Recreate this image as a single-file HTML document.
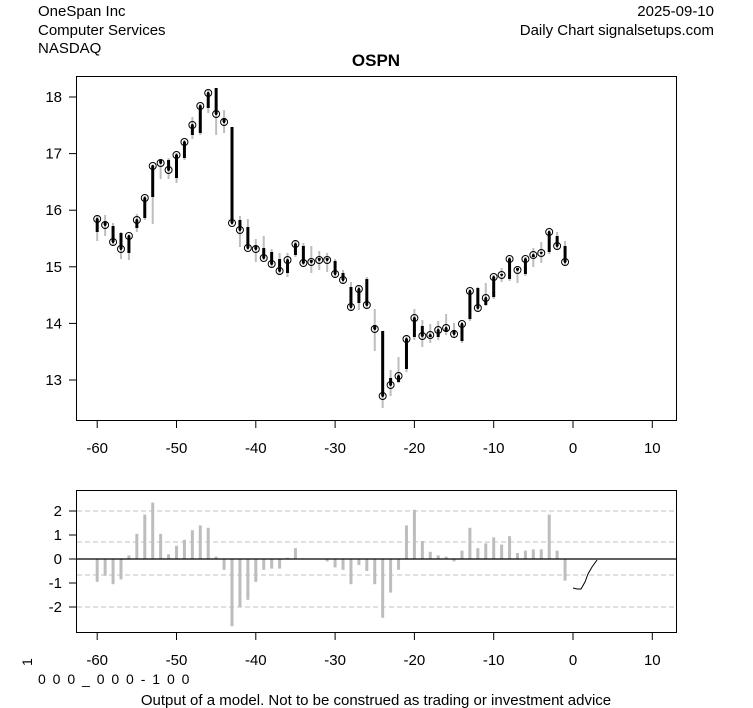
<!DOCTYPE html>
<html><head><meta charset="utf-8"><style>
html,body{margin:0;padding:0;background:#fff;}
svg{display:block;font-family:"Liberation Sans",Arial,sans-serif;}
</style></head><body>
<svg id="s" width="753" height="708" xmlns="http://www.w3.org/2000/svg">
<rect width="753" height="708" fill="#fff"/>
<text x="38" y="16" font-size="15">OneSpan Inc</text>
<text x="38" y="35" font-size="15">Computer Services</text>
<text x="38" y="53" font-size="15">NASDAQ</text>
<text x="714" y="16" font-size="15" text-anchor="end">2025-09-10</text>
<text x="714" y="35" font-size="15" text-anchor="end">Daily Chart signalsetups.com</text>
<text x="376" y="66" font-size="17" font-weight="bold" text-anchor="middle">OSPN</text>
<rect x="76.5" y="76.5" width="600" height="344" fill="none" stroke="#000"/>
<rect x="76.5" y="490.5" width="600" height="142" fill="none" stroke="#000"/>
<g id="g"></g>
<text x="376" y="705" font-size="15" text-anchor="middle">Output of a model. Not to be construed as trading or investment advice</text>
<text x="38" y="684" font-size="14" letter-spacing="1.5">0 0 0 _ 0 0 0 - 1 0 0</text>
<text x="0" y="0" font-size="14" transform="translate(32,666) rotate(-90)">1</text>
</svg>
<script>
const g=document.getElementById('g');let h='';
const X=i=>573+7.93*i;
// main ticks
[[18,97],[17,153.6],[16,210.2],[15,266.8],[14,323.4],[13,380]].forEach(([v,y])=>{h+=`<line x1="69" x2="76" y1="${y}" y2="${y}" stroke="#000"/><text x="62" y="${y+5}" font-size="15" text-anchor="end">${v}</text>`;});
for(let v=-60;v<=10;v+=10){const x=X(v);h+=`<line x1="${x}" x2="${x}" y1="421" y2="428" stroke="#000"/><text x="${x}" y="453" font-size="15" text-anchor="middle">${v}</text>`;
h+=`<line x1="${x}" x2="${x}" y1="633" y2="640" stroke="#000"/><text x="${x}" y="665" font-size="15" text-anchor="middle">${v}</text>`;}
// lower y ticks
[[2,511],[1,535],[0,559],[-1,583],[-2,607]].forEach(([v,y])=>{h+=`<line x1="69" x2="76" y1="${y}" y2="${y}" stroke="#000"/><text x="62" y="${y+5}" font-size="15" text-anchor="end">${v}</text>`;});
[511,542,575,607].forEach(y=>h+=`<line x1="77" x2="676" y1="${y}" y2="${y}" stroke="#c0c0c0" stroke-dasharray="5,3"/>`);
// bars: i, close, open, hi, lo (pixel y)
const d=[[-60,219,232,215,241],[-59,225,222,215,236],[-58,242,226,223,245],[-57,249,233,232,259],[-56,236,253,236,260],[-55,220,228,214,232],[-54,198,218,196,220],[-53,166,197,165,224],[-52,163,160,160,179],[-51,170,160,158,179],[-50,155,178,153,183],[-49,142,158,140,160],[-48,125,135,117,139],[-47,106,133,104,135],[-46,93,108,90,113],[-45,114,88,88,135],[-44,122,118,110,133],[-43,223,127,127,225],[-42,230,220,216,247],[-41,248,227,219,250],[-40,249,246,239,262],[-39,258,248,236,260],[-38,264,252,249,268],[-37,271,259,253,275],[-36,260,273,253,277],[-35,244,255,240,257],[-34,263,246,243,265],[-33,262,260,246,273],[-32,260,258,251,270],[-31,260,258,253,272],[-30,274,261,259,278],[-29,280,273,270,284],[-28,307,287,282,310],[-27,289,303,286,310],[-26,305,279,277,308],[-25,329,325,309,351],[-24,396,331,331,408],[-23,385,378,370,396],[-22,376,382,357,383],[-21,339,369,335,372],[-20,318,337,309,340],[-19,336,326,320,347],[-18,335,337,324,343],[-17,330,337,321,340],[-16,328,332,314,335],[-15,334,330,323,338],[-14,324,341,322,343],[-13,291,319,289,321],[-12,308,288,287,311],[-11,298,305,283,306],[-10,277,297,275,299],[-9,275,274,268,282],[-8,259,279,257,281],[-7,270,268,266,283],[-6,259,274,257,276],[-5,255,257,248,267],[-4,253,252,242,263],[-3,232,252,230,254],[-2,246,236,232,249],[-1,262,246,241,265]];
d.forEach(([i,c,o,hi,lo])=>{const x=X(i);
h+=`<line x1="${x}" x2="${x}" y1="${hi}" y2="${lo}" stroke="#bdbdbd" stroke-width="2"/>`;
h+=`<line x1="${x}" x2="${x}" y1="${Math.min(o,c)}" y2="${Math.max(o,c)+0.01}" stroke="#000" stroke-width="3"/>`;
h+=`<circle cx="${x}" cy="${c}" r="3.5" fill="none" stroke="#000" stroke-width="1"/><circle cx="${x}" cy="${c}" r="1.2" fill="#000"/>`;});
// lower bars
const v=[-0.95,-0.7,-1.05,-0.85,0.15,1.05,1.85,2.35,1.05,0.2,0.55,0.8,1.2,1.4,1.3,0.1,-0.45,-2.8,-2.0,-1.7,-0.95,-0.45,-0.4,-0.4,0.05,0.45,0.03,0.02,0.02,-0.1,-0.35,-0.45,-1.05,-0.25,-0.5,-1.05,-2.45,-1.4,-0.45,1.4,2.05,0.75,0.3,0.15,0.1,-0.1,0.35,1.3,0.45,0.65,0.9,0.6,0.95,0.25,0.35,0.4,0.4,1.85,0.35,-0.9];
v.forEach((val,k)=>{const x=X(k-60);const y=559-val*24;h+=`<line x1="${x}" x2="${x}" y1="559" y2="${y}" stroke="#bdbdbd" stroke-width="3"/>`;});
h+=`<line x1="77" x2="676" y1="559" y2="559" stroke="#000" stroke-width="1.2"/>`;
h+=`<polyline points="573,588 577,589 581,589 585,582 588,574 592,567 597,560" fill="none" stroke="#000" stroke-width="1"/>`;
g.innerHTML=h;
</script>
</body></html>
